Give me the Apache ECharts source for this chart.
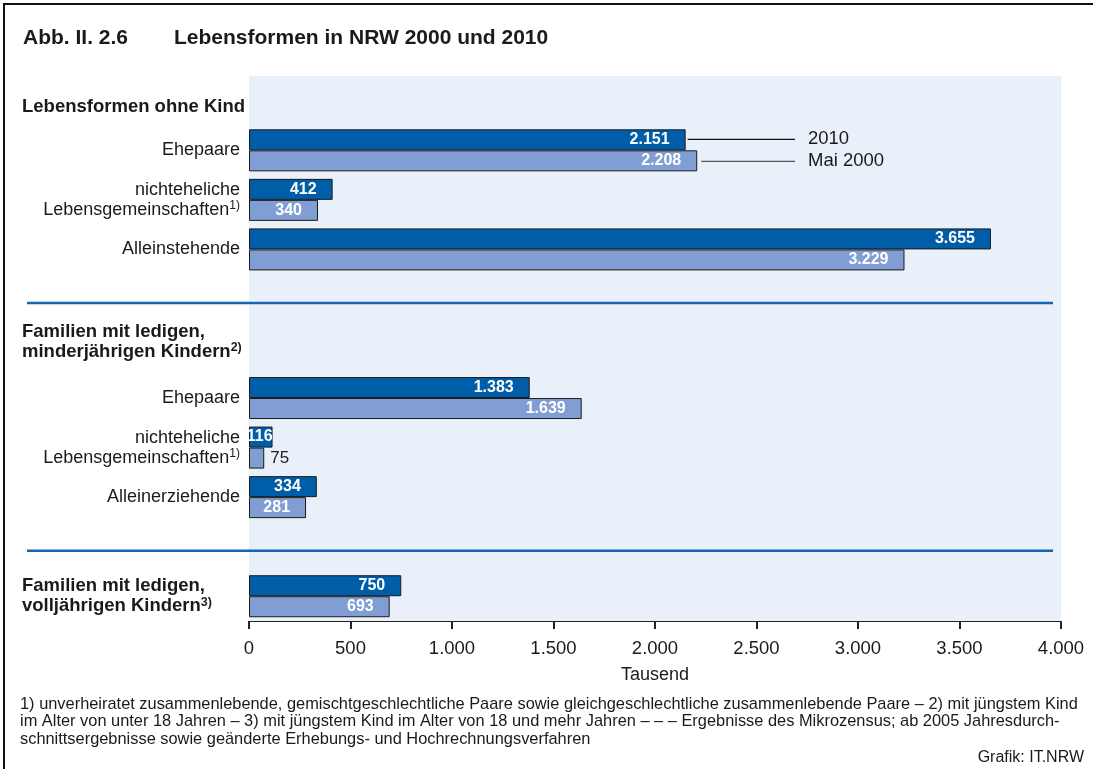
<!DOCTYPE html>
<html>
<head>
<meta charset="utf-8">
<script src="https://cdn.jsdelivr.net/npm/echarts@6/dist/echarts.min.js"></script>
<style>
  html, body { margin: 0; padding: 0; background: #fff; }
  #chart { width: 1093px; height: 769px; }
</style>
</head>
<body>
<div id="chart"></div>
<script>
// rows top to bottom (header / separator slots are empty)
var rowLabels = ['', 'Ehepaare', 'nichteheliche\nLebensgemeinschaften', 'Alleinstehende', '', '',
  'Ehepaare', 'nichteheliche\nLebensgemeinschaften', 'Alleinerziehende', '', ''];
var rowNotes = ['', '', '1)', '', '', '', '', '1)', '', '', ''];
var headers = ['Lebensformen ohne Kind', '', '', '', '', 'Familien mit ledigen,\nminderjährigen Kindern',
  '', '', '', '', 'Familien mit ledigen,\nvolljährigen Kindern'];
var headerNotes = ['', '', '', '', '', '2)', '', '', '', '', '3)'];
var values2010 = [null, 2151, 412, 3655, null, null, 1383, 116, 334, null, 750];
var values2000 = [null, 2208, 340, 3229, null, null, 1639, 75, 281, null, 693];
var seriesNames = ['2010', 'Mai 2000'];
var separatorRows = [4, 9];
var footnotes = [
  '1) unverheiratet zusammenlebende, gemischtgeschlechtliche Paare sowie gleichgeschlechtliche zusammenlebende Paare – 2) mit jüngstem Kind',
  'im Alter von unter 18 Jahren – 3) mit jüngstem Kind im Alter von 18 und mehr Jahren – – – Ergebnisse des Mikrozensus; ab 2005 Jahresdurch-',
  'schnittsergebnisse sowie geänderte Erhebungs- und Hochrechnungsverfahren'
];

var ink = '#1a1a1a';
var dark = '#005ea9';
var light = '#809ed3';
var font = 'Liberation Sans, Arial, sans-serif';

var keys = rowLabels.map(function (_, i) { return 'r' + i; });

function fmt(v) {
  return String(v).replace(/\B(?=(\d{3})+(?!\d))/g, '.');
}

function richLines(text, note, st, sup) {
  var lines = text.split('\n');
  return lines.map(function (l, i) {
    var s = '{' + st + '|' + l + '}';
    if (i === lines.length - 1 && note) s += '{' + sup + '|' + note + '}';
    return s;
  }).join('\n');
}

function barData(vals) {
  return vals.map(function (v) {
    if (v == null) return null;
    if (v < 100) {
      return { value: v, label: { position: 'right', color: ink, fontWeight: 'normal', fontSize: 17, distance: 6 } };
    }
    if (v < 150) return { value: v, label: { distance: 0 } };
    return v;
  });
}

var barLabel = {
  show: true, position: 'insideRight', distance: 16, color: '#fff',
  fontWeight: 'bold', fontSize: 16, fontFamily: font,
  formatter: function (p) { return fmt(p.value); }
};

var chart = echarts.init(document.getElementById('chart'), null, { renderer: 'canvas' });
chart.setOption({
  animation: false,
  textStyle: { fontFamily: font },
  grid: {
    left: 249, right: 32, top: 76, height: 545,
    show: true, backgroundColor: '#e9f0fa', borderWidth: 0,
    outerBoundsMode: 'none'
  },
  xAxis: {
    type: 'value', min: 0, max: 4000, interval: 500,
    name: 'Tausend', nameLocation: 'middle', nameGap: 45,
    nameTextStyle: { color: ink, fontSize: 18, fontFamily: font },
    axisLine: { show: true, lineStyle: { color: '#222', width: 1 } },
    axisTick: { show: true, inside: false, length: 8, lineStyle: { color: '#222', width: 2 } },
    axisLabel: { color: ink, fontSize: 18.5, margin: 18, fontFamily: font, formatter: fmt },
    splitLine: { show: false }
  },
  yAxis: [{
    type: 'category', inverse: true, data: keys,
    axisLine: { show: false }, axisTick: { show: false },
    axisLabel: {
      interval: 0, margin: 9, color: ink, fontSize: 18, fontFamily: font, align: 'right',
      formatter: function (v, i) { return rowLabels[i] ? richLines(rowLabels[i], rowNotes[i], 't', 's') : ''; },
      rich: {
        t: { fontSize: 18, lineHeight: 20, color: ink, fontFamily: font },
        s: { fontSize: 12, lineHeight: 12, verticalAlign: 'top', color: ink, fontFamily: font }
      }
    }
  }, {
    type: 'category', inverse: true, data: keys, position: 'left',
    axisLine: { show: false }, axisTick: { show: false },
    axisLabel: {
      interval: 0, margin: 227, align: 'left', color: ink, fontSize: 18.5, fontWeight: 'bold', fontFamily: font,
      formatter: function (v, i) {
        if (!headers[i]) return '';
        var s = richLines(headers[i], headerNotes[i], 'h', 'hs');
        // nudge the header blocks off the slot centre with spacer lines
        if (i === 0) s = '{g12| }\n' + s;
        if (i === 5) s = s + '\n{g14| }';
        return s;
      },
      rich: {
        h: { fontSize: 18.5, lineHeight: 20, fontWeight: 'bold', color: ink, fontFamily: font },
        hs: { fontSize: 12.5, lineHeight: 12, fontWeight: 'bold', verticalAlign: 'top', color: ink, fontFamily: font },
        g12: { fontSize: 1, lineHeight: 12 },
        g14: { fontSize: 1, lineHeight: 14 }
      }
    }
  }],
  series: [{
    name: seriesNames[0], type: 'bar', yAxisIndex: 0, data: barData(values2010),
    barWidth: 21, barGap: '0%',
    itemStyle: { color: dark, borderColor: '#1a1a1a', borderWidth: 1 },
    label: barLabel
  }, {
    name: seriesNames[1], type: 'bar', yAxisIndex: 0, data: barData(values2000),
    barWidth: 21, barGap: '0%',
    itemStyle: { color: light, borderColor: '#1a1a1a', borderWidth: 1 },
    label: barLabel
  }]
});

// annotations placed from the axes' own scales
var g = [];
g.push({ type: 'rect', shape: { x: 4, y: 4, width: 1200, height: 900 }, style: { fill: null, stroke: '#111', lineWidth: 2 }, silent: true });
g.push({ type: 'text', x: 23, y: 38, style: { text: 'Abb. II. 2.6', font: 'bold 21px ' + font, fill: ink, verticalAlign: 'middle' } });
g.push({ type: 'text', x: 174, y: 38, style: { text: 'Lebensformen in NRW 2000 und 2010', font: 'bold 21px ' + font, fill: ink, verticalAlign: 'middle' } });

separatorRows.forEach(function (r) {
  var p = chart.convertToPixel({ xAxisIndex: 0, yAxisIndex: 0 }, [0, keys[r]]);
  g.push({ type: 'line', shape: { x1: 27, y1: p[1] + 4, x2: 1053, y2: p[1] + 4 }, style: { stroke: '#1466b3', lineWidth: 2.5 }, z: 10 });
});

var p10 = chart.convertToPixel({ xAxisIndex: 0, yAxisIndex: 0 }, [values2010[1], keys[1]]);
var p00 = chart.convertToPixel({ xAxisIndex: 0, yAxisIndex: 0 }, [values2000[1], keys[1]]);
g.push({ type: 'line', shape: { x1: p10[0] + 2, y1: p10[1] - 11, x2: 795, y2: p10[1] - 11 }, style: { stroke: '#111', lineWidth: 1.2 }, z: 10 });
g.push({ type: 'line', shape: { x1: p00[0] + 4, y1: p00[1] + 11, x2: 795, y2: p00[1] + 11 }, style: { stroke: '#555', lineWidth: 1.2 }, z: 10 });
g.push({ type: 'text', x: 808, y: p10[1] - 11, style: { text: seriesNames[0], font: '18.5px ' + font, fill: ink, verticalAlign: 'middle' }, z: 10 });
g.push({ type: 'text', x: 808, y: p00[1] + 11, style: { text: seriesNames[1], font: '18.5px ' + font, fill: ink, verticalAlign: 'middle' }, z: 10 });

footnotes.forEach(function (t, i) {
  g.push({ type: 'text', x: 20, y: 704 + i * 17.5, style: { text: t, font: '16.4px ' + font, fill: ink, verticalAlign: 'middle' } });
});
g.push({ type: 'text', x: 1084, y: 758, style: { text: 'Grafik: IT.NRW', font: '16px ' + font, fill: ink, align: 'right', verticalAlign: 'middle' } });

chart.setOption({ graphic: g });
window.addEventListener('resize', function () { chart.resize(); });
</script>
</body>
</html>
